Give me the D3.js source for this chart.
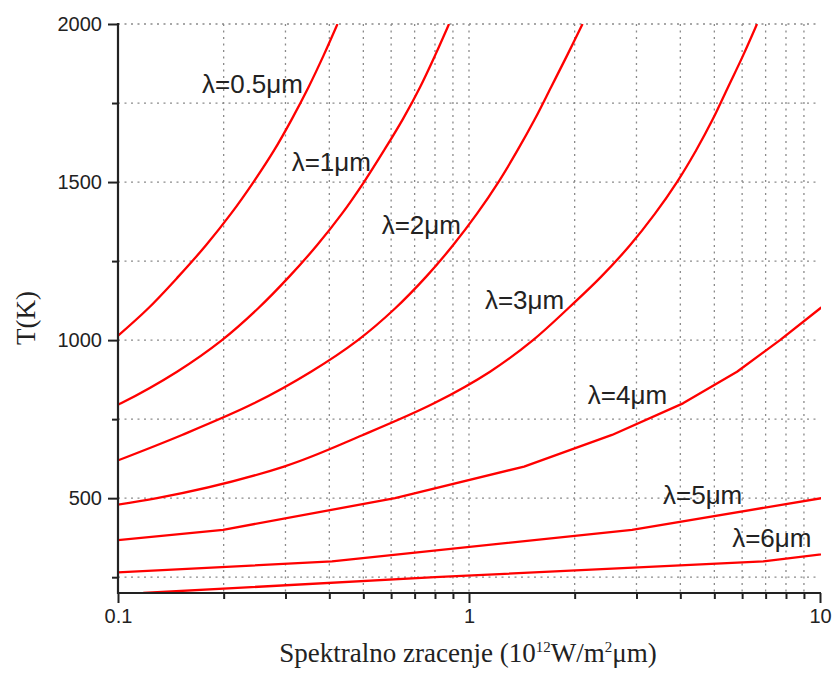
<!DOCTYPE html>
<html>
<head>
<meta charset="utf-8">
<script src="https://cdn.jsdelivr.net/npm/d3@7"></script>
<style>
  html, body { margin: 0; padding: 0; background: #fff; }
  svg { display: block; }
</style>
</head>
<body>
<svg id="chart" width="833" height="673"></svg>
<script>
// Spectral exitance E (10^12 W/m^2 um) versus temperature T (K) for several wavelengths.
// Each series: pairs [E, T].
const lambda05 = [[0.0968,1000],[0.1218,1100],[0.1483,1200],[0.1781,1300],[0.2099,1400],[0.2432,1500],
                  [0.2783,1600],[0.3131,1700],[0.3489,1800],[0.3850,1900],[0.4220,2000]];
const lambda1  = [[0.0644,700],[0.1020,800],[0.1473,900],[0.1978,1000],[0.2505,1100],[0.3070,1200],[0.3689,1300],
                  [0.4346,1400],[0.5021,1500],[0.5726,1600],[0.6487,1700],[0.7252,1800],[0.8000,1900],[0.8772,2000]];
const lambda2  = [[0.0900,600],[0.1522,700],[0.2440,800],[0.3547,900],[0.4827,1000],[0.6155,1100],[0.7542,1200],
                  [0.9004,1300],[1.054,1400],[1.213,1500],[1.374,1600],[1.542,1700],[1.713,1800],[1.902,1900],[2.106,2000]];
const lambda3  = [[0.026,400],[0.1292,500],[0.2971,600],[0.4988,700],[0.7949,800],[1.148,900],[1.522,1000],[1.915,1100],
                  [2.377,1200],[2.875,1300],[3.388,1400],[3.913,1500],[4.434,1600],[4.956,1700],[5.469,1800],
                  [6.035,1900],[6.615,2000]];
const lambda4  = [[0.0247,300],[0.1992,400],[0.6155,500],[1.435,600],[2.555,700],[4.071,800],[5.802,900],
                  [7.691,1000],[10.0,1100],[13.0,1200]];
const lambda5  = [[0.0072,200],[0.407,300],[2.913,400],[10.1,500]];
const lambda6  = [[0.118,200],[0.80,250],[6.9,300],[16.0,350]];

const seriesNames = ["λ=0.5μm","λ=1μm","λ=2μm","λ=3μm","λ=4μm","λ=5μm","λ=6μm"];
const seriesData  = [lambda05, lambda1, lambda2, lambda3, lambda4, lambda5, lambda6];
// Short-wavelength curves are densely sampled and drawn smooth; the rest as polylines.
const seriesSmooth = [true, true, true, true, false, false, false];
// Label anchor for each curve, in data units [E, T] (left end, baseline).
const labelAnchors = [[0.1735,1782],[0.3125,1535],[0.564,1335],[1.11,1098],[2.18,797],[3.57,481],[5.62,345]];

const xDomain = [0.1, 10];
const yDomain = [200, 2000];
const xMajorTicks = [0.1, 1, 10];
const xTickLabels = ["0.1", "1", "10"];
const xMinorTicks = [0.2,0.3,0.4,0.5,0.6,0.7,0.8,0.9,2,3,4,5,6,7,8,9];
const yMajorTicks = [500, 1000, 1500, 2000];
const yMinorTicks = [250, 750, 1250, 1750];

const svg = d3.select("#chart");
const plotLeft = 118, plotRight = 820, plotTop = 24, plotBottom = 593;

const x = d3.scaleLog().domain(xDomain).range([plotLeft, plotRight]);
const y = d3.scaleLinear().domain(yDomain).range([plotBottom, plotTop]);

const axisColor = "#222";
const gridColor = "#8a8a8a";

// grid
const grid = svg.append("g");
grid.selectAll("line.gy").data(yMinorTicks.concat(yMajorTicks)).join("line")
  .attr("class", "gy")
  .attr("x1", plotLeft).attr("x2", plotRight)
  .attr("y1", d => y(d)).attr("y2", d => y(d))
  .attr("stroke", gridColor).attr("stroke-width", 1.3)
  .attr("stroke-dasharray", "2,4.5");
grid.selectAll("line.gx").data(xMinorTicks.concat([1])).join("line")
  .attr("class", "gx")
  .attr("x1", d => x(d)).attr("x2", d => x(d))
  .attr("y1", plotTop).attr("y2", plotBottom)
  .attr("stroke", gridColor).attr("stroke-width", 1.3)
  .attr("stroke-dasharray", "2,4.5");

// curves
svg.append("defs").append("clipPath").attr("id", "plotClip")
  .append("rect").attr("x", plotLeft).attr("y", plotTop)
  .attr("width", plotRight - plotLeft + 1).attr("height", plotBottom - plotTop);

const smoothLine = d3.line().x(d => x(d[0])).y(d => y(d[1])).curve(d3.curveCatmullRom.alpha(0.5));
const straightLine = d3.line().x(d => x(d[0])).y(d => y(d[1]));
svg.append("g").attr("clip-path", "url(#plotClip)")
  .selectAll("path").data(seriesData).join("path")
  .attr("d", (d, i) => (seriesSmooth[i] ? smoothLine : straightLine)(d))
  .attr("fill", "none")
  .attr("stroke", "#ff0000")
  .attr("stroke-width", 2.3)
  .attr("stroke-linejoin", "round");

// axes
const fmtX = d => xTickLabels[xMajorTicks.indexOf(d)];
const xAxisMajor = d3.axisBottom(x).tickValues(xMajorTicks).tickFormat(fmtX).tickSize(10).tickPadding(6);
const xAxisMinor = d3.axisBottom(x).tickValues(xMinorTicks).tickFormat("").tickSize(6);
const yAxisMajor = d3.axisLeft(y).tickValues(yMajorTicks).tickFormat(d3.format("d")).tickSize(10).tickPadding(6);
const yAxisMinor = d3.axisLeft(y).tickValues(yMinorTicks).tickFormat("").tickSize(6);

function styleAxis(g) {
  g.select(".domain").remove();
  g.selectAll("line").attr("stroke", axisColor).attr("stroke-width", 2);
  g.selectAll("text").attr("fill", axisColor)
    .style("font-family", "'Liberation Sans', Arial, sans-serif").style("font-size", "20px");
}

svg.append("g").attr("transform", `translate(0,${plotBottom})`).call(xAxisMinor).call(styleAxis);
svg.append("g").attr("transform", `translate(0,${plotBottom})`).call(xAxisMajor).call(styleAxis);
svg.append("g").attr("transform", `translate(${plotLeft},0)`).call(yAxisMinor).call(styleAxis);
svg.append("g").attr("transform", `translate(${plotLeft},0)`).call(yAxisMajor).call(styleAxis);

// axis lines
svg.append("line").attr("x1", plotLeft).attr("x2", plotRight + 1).attr("y1", plotBottom).attr("y2", plotBottom)
  .attr("stroke", axisColor).attr("stroke-width", 2.2);
svg.append("line").attr("x1", plotLeft).attr("x2", plotLeft).attr("y1", plotTop - 1).attr("y2", plotBottom + 1)
  .attr("stroke", axisColor).attr("stroke-width", 2.2);

// curve labels
svg.append("g").selectAll("text").data(seriesNames).join("text")
  .attr("x", (d, i) => x(labelAnchors[i][0]))
  .attr("y", (d, i) => y(labelAnchors[i][1]))
  .attr("fill", "#222")
  .style("font-family", "'Liberation Sans', Arial, sans-serif")
  .style("font-size", "26px")
  .text(d => d);

// axis titles
const serif = "'Liberation Serif', 'Times New Roman', serif";
const xt = svg.append("text")
  .attr("x", 468).attr("y", 662)
  .attr("text-anchor", "middle").attr("fill", "#222")
  .style("font-family", serif).style("font-size", "27px");
xt.append("tspan").text("Spektralno zracenje (10");
xt.append("tspan").attr("dy", -10).style("font-size", "15px").text("12");
xt.append("tspan").attr("dy", 10).text("W/m");
xt.append("tspan").attr("dy", -10).style("font-size", "15px").text("2");
xt.append("tspan").attr("dy", 10).text("μm)");

svg.append("text")
  .attr("transform", "translate(35,318) rotate(-90)")
  .attr("text-anchor", "middle").attr("fill", "#222")
  .style("font-family", serif).style("font-size", "27px")
  .text("T(K)");
</script>
</body>
</html>
